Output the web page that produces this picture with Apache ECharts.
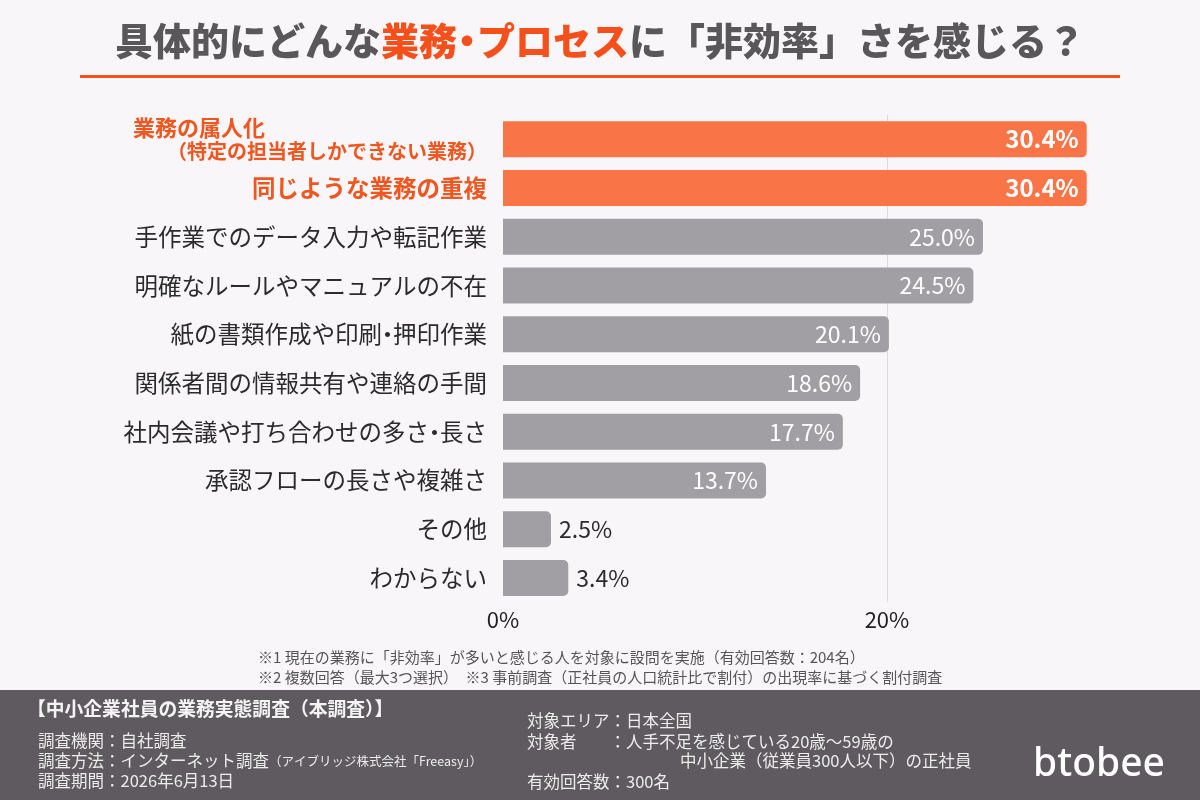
<!DOCTYPE html>
<html>
<head>
<meta charset="utf-8">
<script src="https://cdn.jsdelivr.net/npm/echarts@6/dist/echarts.min.js"></script>
<style>
html,body{margin:0;padding:0;background:#f8f6f9;}
#c{width:1200px;height:800px;}
</style>
</head>
<body>
<div id="c"></div>
<script>
const categories = [
  '業務の属人化\n（特定の担当者しかできない業務）',
  '同じような業務の重複',
  '手作業でのデータ入力や転記作業',
  '明確なルールやマニュアルの不在',
  '紙の書類作成や印刷・押印作業',
  '関係者間の情報共有や連絡の手間',
  '社内会議や打ち合わせの多さ・長さ',
  '承認フローの長さや複雑さ',
  'その他',
  'わからない'
];
const values = [30.4, 30.4, 25.0, 24.5, 20.1, 18.6, 17.7, 13.7, 2.5, 3.4];
const highlighted = ['業務の属人化\n（特定の担当者しかできない業務）', '同じような業務の重複'];
const tickValues = [0, 20];

const FONT = '"Noto Sans CJK JP", "Noto Sans", sans-serif';
const ORANGE = '#f97548';
const GRAY = '#a19fa3';

// split text into rich tokens, giving proportional (narrow) width to the middle dot
function richify(text, key) {
  let out = '';
  let buf = '';
  for (const ch of text) {
    if (ch === '・') {
      if (buf) { out += '{' + key + '|' + buf + '}'; buf = ''; }
      out += '{' + key + 'N|' + ch + '}';
    } else {
      buf += ch;
    }
  }
  if (buf) out += '{' + key + '|' + buf + '}';
  return out;
}
function richStyles(key, base, w) {
  const o = {};
  o[key] = Object.assign({}, base);
  o[key + 'N'] = Object.assign({}, base, {width: w, align: 'center'});
  return o;
}

const chart = echarts.init(document.getElementById('c'), null, {renderer: 'canvas'});

const data = values.map((v, i) => {
  const hi = highlighted.includes(categories[i]);
  const small = v < 5;
  return {
    value: v,
    itemStyle: {color: hi ? ORANGE : GRAY, borderRadius: [0, 5, 5, 0]},
    label: {
      show: true,
      position: small ? 'right' : 'insideRight',
      distance: 8,
      color: small ? '#2b2b2b' : '#ffffff',
      fontWeight: hi ? 'bold' : 'normal',
      fontSize: hi ? 24 : 23,
      fontFamily: FONT,
      formatter: (p) => p.value.toFixed(1) + '%'
    }
  };
});

const LBL = 23.5;
const TT = 38;

chart.setOption({
  backgroundColor: '#f8f6f9',
  animation: false,
  grid: {left: 503, right: 82.6, top: 115, bottom: 197.6, containLabel: false},
  xAxis: {
    type: 'value', min: 0, max: 32, interval: 20,
    axisLine: {show: false}, axisTick: {show: false},
    splitLine: {show: true, showMinLine: false, showMaxLine: false, lineStyle: {color: '#dcdadd', width: 1}},
    axisLabel: {
      fontSize: 22, color: '#222', fontFamily: FONT, margin: 6,
      showMaxLabel: false,
      formatter: (v) => tickValues.includes(v) ? v + '%' : ''
    }
  },
  yAxis: {
    type: 'category', inverse: true, data: categories,
    axisLine: {show: false}, axisTick: {show: false},
    axisLabel: {
      margin: 16, fontFamily: FONT,
      formatter: (v) => {
        if (v.indexOf('\n') >= 0) {
          const parts = v.split('\n');
          return '{h1|' + parts[0] + '}\n{h2|' + parts[1] + '}';
        }
        return richify(v, highlighted.includes(v) ? 'h' : 'n');
      },
      rich: Object.assign(
        richStyles('n', {fontSize: LBL, color: '#2b2b2b', fontFamily: FONT}, 11),
        richStyles('h', {fontSize: LBL, color: '#f0561f', fontWeight: 'bold', fontFamily: FONT}, 11),
        {
          h1: {fontSize: 22, color: '#f0561f', fontWeight: 'bold', fontFamily: FONT, width: 354, align: 'left', lineHeight: 24},
          h2: {fontSize: 20, color: '#f0561f', fontWeight: 'bold', fontFamily: FONT, lineHeight: 24}
        }
      )
    }
  },
  series: [{
    type: 'bar', data: data, barWidth: 36
  }],
  graphic: [
    {
      type: 'text', left: 'center', top: 22,
      style: {
        text: richify('具体的にどんな', 'g') + richify('業務・プロセス', 'o') + richify('に「非効率」さを感じる？', 'g'),
        rich: Object.assign(
          richStyles('g', {fontSize: TT, fontWeight: 900, fill: '#595759', fontFamily: FONT}, 20),
          richStyles('o', {fontSize: TT, fontWeight: 900, fill: '#f5501c', fontFamily: FONT}, 20)
        )
      }
    },
    {
      type: 'rect', shape: {x: 80, y: 75, width: 1040, height: 3},
      style: {fill: '#f5501c'}
    },
    {
      type: 'text', x: 258, y: 657,
      style: {text: '※1 現在の業務に「非効率」が多いと感じる人を対象に設問を実施（有効回答数：204名）',
        fontSize: 15, fill: '#555', fontFamily: FONT, verticalAlign: 'middle'}
    },
    {
      type: 'text', x: 258, y: 677,
      style: {text: '※2 複数回答（最大3つ選択）　※3 事前調査（正社員の人口統計比で割付）の出現率に基づく割付調査',
        fontSize: 15, fill: '#555', fontFamily: FONT, verticalAlign: 'middle'}
    },
    {
      type: 'rect', shape: {x: 0, y: 690, width: 1200, height: 110},
      style: {fill: '#5f5a5f'}
    },
    {
      type: 'text', x: 27, y: 709,
      style: {text: '【中小企業社員の業務実態調査（本調査）】', fontSize: 18.8, fontWeight: 'bold',
        fill: '#f4f4f4', fontFamily: FONT, verticalAlign: 'middle'}
    },
    {
      type: 'text', x: 38, y: 741,
      style: {text: '調査機関：自社調査', fontSize: 16.5, fill: '#ececec', fontFamily: FONT, verticalAlign: 'middle'}
    },
    {
      type: 'text', x: 38, y: 761,
      style: {
        text: '{a|調査方法：インターネット調査}{b|（アイブリッジ株式会社「Freeasy」）}',
        verticalAlign: 'middle',
        rich: {
          a: {fontSize: 16.5, fill: '#ececec', fontFamily: FONT},
          b: {fontSize: 12.5, fill: '#ececec', fontFamily: FONT}
        }
      }
    },
    {
      type: 'text', x: 38, y: 781,
      style: {text: '調査期間：2026年6月13日', fontSize: 16.5, fill: '#ececec', fontFamily: FONT, verticalAlign: 'middle'}
    },
    {
      type: 'text', x: 527, y: 721,
      style: {text: '対象エリア：日本全国', fontSize: 16.5, fill: '#ececec', fontFamily: FONT, verticalAlign: 'middle'}
    },
    {
      type: 'text', x: 527, y: 742,
      style: {text: '対象者　　：人手不足を感じている20歳〜59歳の', fontSize: 16.5, fill: '#ececec', fontFamily: FONT, verticalAlign: 'middle'}
    },
    {
      type: 'text', x: 680, y: 761,
      style: {text: '中小企業（従業員300人以下）の正社員', fontSize: 16.5, fill: '#ececec', fontFamily: FONT, verticalAlign: 'middle'}
    },
    {
      type: 'text', x: 527, y: 782,
      style: {text: '有効回答数：300名', fontSize: 16.5, fill: '#ececec', fontFamily: FONT, verticalAlign: 'middle'}
    },
    {
      type: 'text', x: 1099, y: 765,
      style: {text: 'btobee', fontSize: 39, fontWeight: 500, fill: '#ffffff', fontFamily: '"Noto Sans", sans-serif',
        align: 'center', verticalAlign: 'middle'}
    }
  ]
});
</script>
</body>
</html>
